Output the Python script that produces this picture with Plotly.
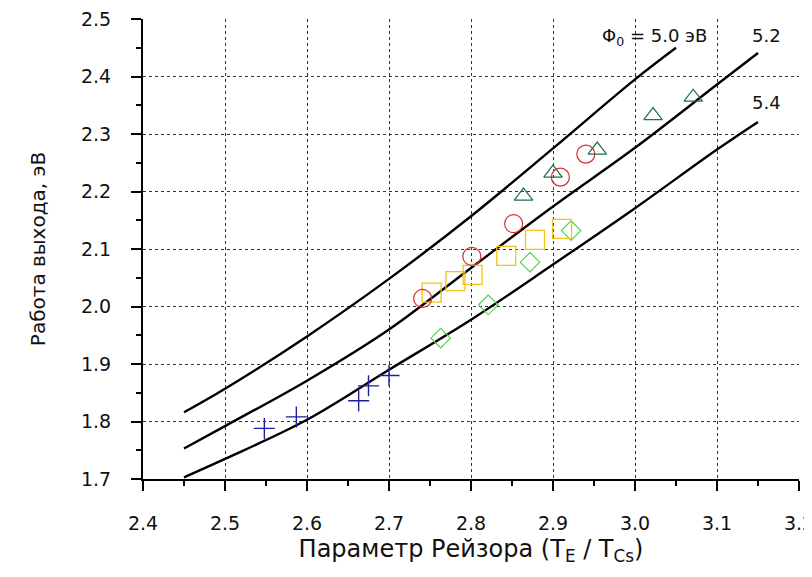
import plotly.graph_objects as go

# Theoretical curves (work function vs Rasor parameter)
x_phi50 = [2.45, 2.5, 2.6, 2.7, 2.8, 2.9, 3.0, 3.05]
y_phi50 = [1.816, 1.857, 1.948, 2.048, 2.157, 2.275, 2.395, 2.450]
x_phi52 = [2.45, 2.5, 2.6, 2.7, 2.8, 2.9, 3.0, 3.1, 3.15]
y_phi52 = [1.753, 1.792, 1.871, 1.960, 2.067, 2.174, 2.276, 2.386, 2.441]
x_phi54 = [2.45, 2.5, 2.6, 2.7, 2.8, 2.9, 3.0, 3.1, 3.15]
y_phi54 = [1.703, 1.735, 1.803, 1.890, 1.977, 2.073, 2.171, 2.273, 2.321]

# Experimental points
x_plus = [2.548, 2.587, 2.663, 2.675, 2.700]
y_plus = [1.788, 1.808, 1.836, 1.862, 1.880]
x_diam = [2.763, 2.821, 2.872, 2.922]
y_diam = [1.945, 2.003, 2.077, 2.132]
x_sq = [2.752, 2.781, 2.802, 2.843, 2.878, 2.911]
y_sq = [2.024, 2.044, 2.055, 2.088, 2.116, 2.135]
x_circ = [2.741, 2.801, 2.852, 2.909, 2.940]
y_circ = [2.014, 2.087, 2.144, 2.225, 2.265]
x_tri = [2.864, 2.900, 2.954, 3.022, 3.071]
y_tri = [2.192, 2.232, 2.272, 2.332, 2.364]

curve_labels = ["Φ<sub>0</sub> = 5.0 эВ", "5.2", "5.4"]

fig = go.Figure()
for xs, ys in [(x_phi50, y_phi50), (x_phi52, y_phi52), (x_phi54, y_phi54)]:
    fig.add_trace(go.Scatter(x=xs, y=ys, mode="lines", line=dict(color="black", width=2.4, shape="spline"),
                             showlegend=False, hoverinfo="skip"))

fig.add_trace(go.Scatter(x=x_plus, y=y_plus, mode="markers",
                         marker=dict(symbol="cross-thin-open", size=15, color="#1f1f9e",
                                     line=dict(color="#1f1f9e", width=1.4)), showlegend=False))
fig.add_trace(go.Scatter(x=x_diam, y=y_diam, mode="markers",
                         marker=dict(symbol="diamond-open", size=15, color="#4ccf4c",
                                     line=dict(color="#4ccf4c", width=1.1)), showlegend=False))
fig.add_trace(go.Scatter(x=x_sq, y=y_sq, mode="markers",
                         marker=dict(symbol="square-open", size=19, color="#f0c419",
                                     line=dict(color="#f0c419", width=1.3)), showlegend=False))
fig.add_trace(go.Scatter(x=x_circ, y=y_circ, mode="markers",
                         marker=dict(symbol="circle-open", size=18, color="#d92b2b",
                                     line=dict(color="#d92b2b", width=1.2)), showlegend=False))
fig.add_trace(go.Scatter(x=x_tri, y=y_tri, mode="markers",
                         marker=dict(symbol="triangle-up-open", size=16, color="#1f6e52",
                                     line=dict(color="#1f6e52", width=1.2)), showlegend=False))

font_main = "DejaVu Sans, sans-serif"
for txt, xx, yy in [(curve_labels[0], 3.024, 2.469), (curve_labels[1], 3.160, 2.471),
                    (curve_labels[2], 3.160, 2.354)]:
    fig.add_annotation(x=xx, y=yy, xref="x", yref="y", text=txt, showarrow=False,
                       font=dict(family=font_main, size=18, color="#111111"))

axis_common = dict(showline=True, linecolor="black", linewidth=2, ticks="outside", tickcolor="black",
                   tickwidth=2, ticklen=10, showgrid=True, gridcolor="#333333", griddash="3px,3px",
                   gridwidth=1, zeroline=False, mirror=False, automargin=False,
                   ticklabeloverflow="allow",
                   tickfont=dict(family=font_main, size=19, color="#111111"))

fig.update_xaxes(range=[2.4, 3.2], dtick=0.1, tick0=2.4, tickformat=".1f", ticklabelstandoff=16,
                 minor=dict(dtick=0.05, ticks="outside", ticklen=5, tickwidth=2, tickcolor="black", showgrid=False),
                 title=dict(text="Параметр Рейзора (T<sub>E</sub> / T<sub>Cs</sub>)", standoff=7,
                            font=dict(family=font_main, size=24, color="#111111")),
                 **axis_common)
fig.update_yaxes(range=[1.7, 2.5], dtick=0.1, tick0=1.7, tickformat=".1f", ticklabelstandoff=16,
                 minor=dict(dtick=0.05, ticks="outside", ticklen=5, tickwidth=2, tickcolor="black", showgrid=False),
                 title=dict(text="Работа выхода, эВ", standoff=30,
                            font=dict(family=font_main, size=20, color="#111111")),
                 **axis_common)

# page body adds an 8px offset; margins compensate so the plot area lands at x 143-799, y 19-479
fig.update_layout(width=812, height=577, margin=dict(l=135, r=21, t=11, b=106),
                  plot_bgcolor="white", paper_bgcolor="white", showlegend=False)

fig.write_html("out.html")
